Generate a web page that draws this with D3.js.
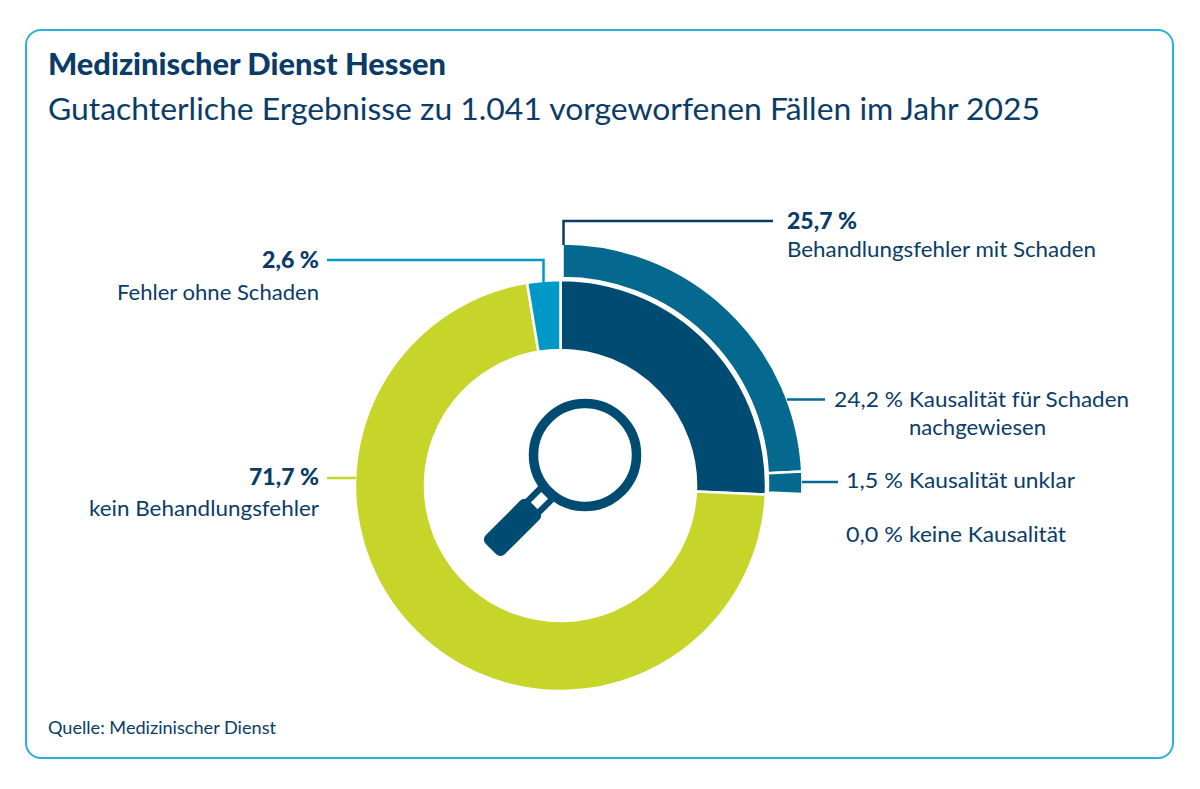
<!DOCTYPE html>
<html>
<head>
<meta charset="utf-8">
<script src="https://cdn.jsdelivr.net/npm/d3@7"></script>
<style>
body { margin: 0; background: #fff; }
text { font-family: Lato, sans-serif; fill: #0b3c68; }
</style>
</head>
<body>
<div id="container"></div>
<script>
const width = 1200;
const height = 789;

const mainCategories = ["Behandlungsfehler mit Schaden", "kein Behandlungsfehler", "Fehler ohne Schaden"];
const mainValues = [25.7, 71.7, 2.6];
const detailCategories = ["Kausalität für Schaden nachgewiesen", "Kausalität unklar", "keine Kausalität"];
const detailValues = [24.2, 1.5, 0.0];

const mainColors = ["#004b71", "#c7d52b", "#0098c6"];
const detailColor = "#05688f";
const textColor = "#0b3c68";

const fmt = (v) => v.toFixed(1).replace(".", ",") + " %";

const svg = d3.select("#container")
    .append("svg")
    .attr("width", width)
    .attr("height", height)
    .style("display", "block");

svg.append("rect")
    .attr("x", 26)
    .attr("y", 30)
    .attr("width", 1147)
    .attr("height", 728)
    .attr("rx", 15)
    .style("fill", "#fff")
    .style("stroke", "#2bb0d8")
    .style("stroke-width", 2);

const title = (txt, y, size, weight, len) => svg.append("text")
    .attr("x", 48)
    .attr("y", y)
    .attr("textLength", len)
    .attr("lengthAdjust", "spacingAndGlyphs")
    .style("font-size", size + "px")
    .style("font-weight", weight)
    .text(txt);
title("Medizinischer Dienst Hessen", 75, 31, 900, 398);
title("Gutachterliche Ergebnisse zu 1.041 vorgeworfenen Fällen im Jahr 2025", 120, 30, 400, 992);
title("Quelle: Medizinischer Dienst", 734, 17, 400, 228);

// rings
const g = svg.append("g").attr("transform", "translate(560.5,485.5)");
const full = 2 * Math.PI;
const pieMain = d3.pie().sort(null).value((d) => d);
const arcMain = d3.arc().innerRadius(135.5).outerRadius(205.5);
const arcDetail = d3.arc().innerRadius(205.5).outerRadius(240);

g.selectAll(".main")
    .data(pieMain(mainValues))
    .enter()
    .append("path")
    .attr("class", "main")
    .attr("d", arcMain)
    .style("fill", (d, i) => mainColors[i])
    .style("stroke", "#fff")
    .style("stroke-width", 2.5);

const detailEnd = full * d3.sum(detailValues) / d3.sum(mainValues);
const pieDetail = d3.pie().sort(null).value((d) => d).startAngle(0).endAngle(detailEnd);
// outer ring sits a little off the centre of the main ring
const g2 = svg.append("g").attr("transform", "translate(562.5,483.5)");
g2.selectAll(".detail")
    .data(pieDetail(detailValues).filter((d) => d.value > 0))
    .enter()
    .append("path")
    .attr("class", "detail")
    .attr("d", arcDetail)
    .style("fill", detailColor)
    .style("stroke", "#fff")
    .style("stroke-width", 2.5);

// leader lines
const leader = (pts, color) => svg.append("path")
    .attr("d", d3.line()(pts))
    .style("fill", "none")
    .style("stroke", color)
    .style("stroke-width", 2.5);
leader([[773, 221], [563.5, 221], [563.5, 245]], textColor);
leader([[327, 260], [543.5, 260], [543.5, 282]], mainColors[2]);
leader([[327, 478], [356, 478]], mainColors[1]);
leader([[787, 399.5], [825, 399.5]], detailColor);
leader([[802, 482], [838, 482]], detailColor);

// labels
const label = (txt, x, y, anchor, weight, len) => svg.append("text")
    .attr("x", x)
    .attr("y", y)
    .attr("text-anchor", anchor)
    .attr("textLength", len)
    .attr("lengthAdjust", "spacingAndGlyphs")
    .style("font-size", "22px")
    .style("font-weight", weight || 400)
    .text(txt);

label(fmt(mainValues[0]), 787, 229, "start", 900, 70);
label(mainCategories[0], 787, 257, "start", 400, 309);
label(fmt(mainValues[2]), 319, 268, "end", 900, 57);
label(mainCategories[2], 319, 300, "end", 400, 202);
label(fmt(mainValues[1]), 319, 485, "end", 900, 70);
label(mainCategories[1], 319, 516, "end", 400, 230);

label(fmt(detailValues[0]), 834, 407, "start", 400, 69);
label("Kausalität für Schaden", 909, 407, "start", 400, 220);
label("nachgewiesen", 909, 435, "start", 400, 137);
label(fmt(detailValues[1]), 846, 488, "start", 400, 57);
label(detailCategories[1], 909, 488, "start", 400, 166);
label(fmt(detailValues[2]), 846, 542, "start", 400, 57);
label(detailCategories[2], 909, 542, "start", 400, 157);

// magnifier
const lens = svg.append("g").attr("transform", "translate(585,455) rotate(45)");
lens.append("circle")
    .attr("r", 51.5)
    .style("fill", "#fff")
    .style("stroke", mainColors[0])
    .style("stroke-width", 9.5);
lens.append("rect")
    .attr("x", -11)
    .attr("y", 55)
    .attr("width", 22)
    .attr("height", 20)
    .style("fill", mainColors[0]);
lens.append("rect")
    .attr("x", -4.75)
    .attr("y", 57)
    .attr("width", 9.5)
    .attr("height", 15)
    .style("fill", "#fff");
lens.append("rect")
    .attr("x", -13.5)
    .attr("y", 72)
    .attr("width", 27)
    .attr("height", 61)
    .attr("rx", 6)
    .style("fill", mainColors[0]);
</script>
</body>
</html>
